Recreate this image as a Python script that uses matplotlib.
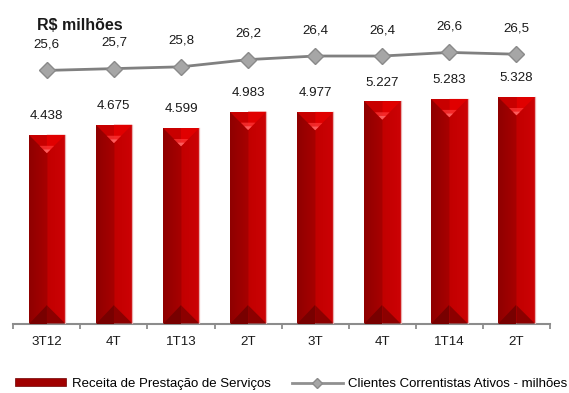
import numpy as np
import matplotlib.pyplot as plt
from matplotlib.patches import Polygon, Patch
from matplotlib.lines import Line2D

plt.rcParams['font.family'] = ['Liberation Sans', 'DejaVu Sans']

periods = ['3T12', '4T', '1T13', '2T', '3T', '4T', '1T14', '2T']
receita = [4438, 4675, 4599, 4983, 4977, 5227, 5283, 5328]
clientes = [25.6, 25.7, 25.8, 26.2, 26.4, 26.4, 26.6, 26.5]

W, H, DPI = 569, 393, 100
fig = plt.figure(figsize=(W / DPI, H / DPI), dpi=DPI)

# layout in pixels
ax_l, ax_r, ax_b, ax_t = 13.3, 550.0, 323.5, 20
ax = fig.add_axes([ax_l / W, (H - ax_b) / H, (ax_r - ax_l) / W, (ax_b - ax_t) / H])
XLIM = (-0.5, len(periods) - 0.5)
YLIM = (0, 7140)

x = np.arange(len(periods))
bw = 0.545
bars = ax.bar(x, receita, width=bw, color='#b00000', edgecolor='#e8a8a8', linewidth=0.7, zorder=2)

px_x = (ax_r - ax_l) / (XLIM[1] - XLIM[0])
px_y = (ax_b - ax_t) / (YLIM[1] - YLIM[0])

# horizontal shading of the bar body: darker left half, brighter right half
g = np.linspace(0, 1, 128)
left = np.array([0.56, 0.0, 0.0])
mid_l = np.array([0.66, 0.0, 0.0])
mid_r = np.array([0.76, 0.0, 0.0])
right = np.array([0.80, 0.01, 0.02])
cols = np.where(g[:, None] < 0.5,
                left + (mid_l - left) * (g[:, None] / 0.5),
                mid_r + (right - mid_r) * ((g[:, None] - 0.5) / 0.5))
img = cols[None, :, :]

for b in bars:
    x0, w, h = b.get_x(), b.get_width(), b.get_height()
    x1, xc = x0 + w, x0 + w / 2
    im = ax.imshow(img, extent=(x0, x1, 0, h), aspect='auto', zorder=2.1, interpolation='bilinear')
    im.set_clip_path(b)
    d = (w / 2) * px_x / px_y
    # top bevel
    ax.add_patch(Polygon([(x0, h), (xc, h), (xc, h - d)], closed=True, fc='#c80000', ec='none', zorder=3))
    ax.add_patch(Polygon([(xc, h), (x1, h), (xc, h - d)], closed=True, fc='#e00000', ec='none', zorder=3))
    ax.add_patch(Polygon([(xc - w * 0.2, h - d * 0.6), (xc + w * 0.2, h - d * 0.6), (xc, h - d)],
                         closed=True, fc='#ff3a3a', ec='none', alpha=0.7, zorder=3.1))
    ax.add_patch(Polygon([(xc - w * 0.1, h - d * 0.8), (xc + w * 0.1, h - d * 0.8), (xc, h - d)],
                         closed=True, fc='#ff6a6a', ec='none', alpha=0.8, zorder=3.2))
    # bottom bevel
    ax.add_patch(Polygon([(x0, 0), (xc, 0), (xc, d)], closed=True, fc='#780000', ec='none', zorder=3))
    ax.add_patch(Polygon([(xc, 0), (x1, 0), (xc, d)], closed=True, fc='#8c0000', ec='none', zorder=3))
    ax.plot([x1, x1], [0, h], color='#eab0b0', lw=0.9, zorder=3.3)
    ax.annotate(f'{h / 1000:.3f}', (xc, h), xytext=(0, 13.5), textcoords='offset points',
                ha='center', va='center', fontsize=9.6, color='#1a1a1a')

ax.set_xlim(*XLIM)
ax.set_ylim(*YLIM)
ax.patch.set_visible(False)
for s in ['top', 'left', 'right']:
    ax.spines[s].set_visible(False)
ax.spines['bottom'].set_color('#8c8c8c')
ax.spines['bottom'].set_linewidth(1.5)
ax.set_yticks([])
ax.set_xticks(np.arange(len(periods) + 1) - 0.5)
ax.set_xticklabels([])
ax.tick_params(axis='x', which='major', length=3.5, width=1.3, color='#8c8c8c', direction='out')
ax.set_xticks(x, minor=True)
ax.set_xticklabels(periods, minor=True)
ax.tick_params(axis='x', which='minor', length=0, pad=9, labelsize=9.6, labelcolor='#1a1a1a')

ax2 = ax.twinx()
ax2.set_ylim(11.54, 11.54 + (ax_b - ax_t) / 18.0)
ax2.axis('off')
ax2.plot(x, clientes, color='#808080', lw=2.0, marker='D', markersize=8,
         markerfacecolor='#a6a6a6', markeredgecolor='#8a8a8a', markeredgewidth=1, zorder=5)
for xi, v in zip(x, clientes):
    ax2.annotate(f'{v:.1f}'.replace('.', ','), (xi, v), xytext=(0, 18.7), textcoords='offset points',
                 ha='center', va='center', fontsize=9.6, color='#1a1a1a')

fig.text(37 / W, 1 - 25 / H, 'R$ milhões', fontsize=11.5, fontweight='bold', ha='left', va='center',
         color='#1a1a1a')

handles = [Patch(facecolor='#a00000', edgecolor='#700000', linewidth=0.5),
           Line2D([], [], color='#909090', lw=2.0, marker='D', markersize=5,
                  markerfacecolor='#a6a6a6', markeredgecolor='#8a8a8a')]
fig.legend(handles, ['Receita de Prestação de Serviços', 'Clientes Correntistas Ativos - milhões'],
           loc='center left', bbox_to_anchor=(15 / W, 1 - 384 / H), ncol=2, frameon=False,
           fontsize=9.5, handlelength=3.9, handleheight=0.55, handletextpad=0.4, columnspacing=1.6,
           borderpad=0, borderaxespad=0)

fig.savefig('out.png', dpi=DPI)
